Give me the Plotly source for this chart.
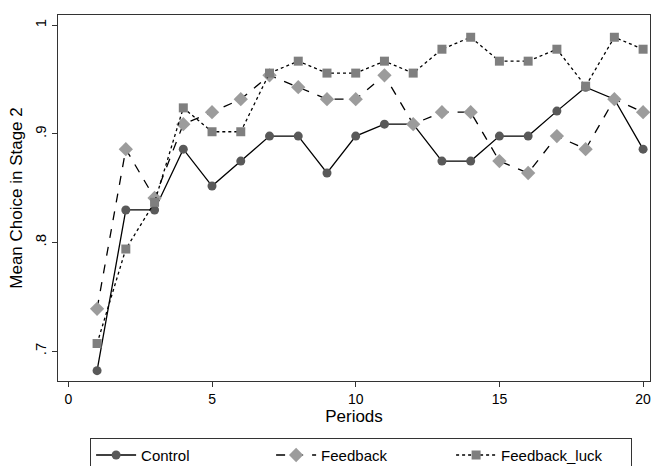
import plotly.graph_objects as go

periods = list(range(1, 21))
control = [0.682, 0.830, 0.830, 0.886, 0.852, 0.875, 0.898, 0.898, 0.864, 0.898,
           0.909, 0.909, 0.875, 0.875, 0.898, 0.898, 0.921, 0.943, 0.932, 0.886]
feedback = [0.739, 0.886, 0.841, 0.909, 0.920, 0.932, 0.954, 0.943, 0.932, 0.932,
            0.954, 0.909, 0.920, 0.920, 0.875, 0.864, 0.898, 0.886, 0.932, 0.920]
feedback_luck = [0.707, 0.794, 0.837, 0.924, 0.902, 0.902, 0.956, 0.967, 0.956, 0.956,
                 0.967, 0.956, 0.978, 0.989, 0.967, 0.967, 0.978, 0.944, 0.989, 0.978]

x_ticks = [0, 5, 10, 15, 20]
y_ticks = [0.7, 0.8, 0.9, 1.0]
y_ticklabels = [".7", ".8", ".9", "1"]

font = "Liberation Sans, Arial, sans-serif"

fig = go.Figure()
fig.add_trace(go.Scatter(x=periods, y=control, name="Control", mode="lines+markers",
                         line=dict(color="black", width=1.3, dash="solid"),
                         marker=dict(symbol="circle", size=9, color="#595959")))
fig.add_trace(go.Scatter(x=periods, y=feedback, name="Feedback", mode="lines+markers",
                         line=dict(color="black", width=1.3, dash="dash"),
                         marker=dict(symbol="diamond", size=11, color="#9c9c9c")))
fig.add_trace(go.Scatter(x=periods, y=feedback_luck, name="Feedback_luck", mode="lines+markers",
                         line=dict(color="black", width=1.3, dash="dot"),
                         marker=dict(symbol="square", size=9, color="#7f7f7f")))

fig.update_layout(
    width=653, height=466,
    margin=dict(l=58, r=3, t=15, b=85, autoexpand=False),
    paper_bgcolor="white", plot_bgcolor="white",
    font=dict(family=font, size=14, color="black"),
    showlegend=True,
    legend=dict(orientation="h", x=0.512, xanchor="center", y=-0.155, yanchor="top",
                bordercolor="#333333", borderwidth=1, entrywidth=125,
                itemwidth=40, font=dict(size=15), traceorder="normal"),
)
fig.update_xaxes(range=[-0.36, 20.24], tickvals=x_ticks, ticks="outside", ticklen=5,
                 tickcolor="#333333", showline=True, linecolor="#333333", linewidth=1.2,
                 mirror=True, showgrid=False, zeroline=False,
                 title=dict(text="Periods", standoff=2), tickfont=dict(size=14))
fig.update_yaxes(range=[0.6725, 1.0095], tickvals=y_ticks, ticktext=y_ticklabels,
                 tickangle=-90, ticks="outside", ticklen=5,
                 tickcolor="#333333", showline=True, linecolor="#333333", linewidth=1.2,
                 mirror=True, showgrid=False, zeroline=False,
                 title=dict(text="Mean Choice in Stage 2", standoff=4), tickfont=dict(size=15))

fig.write_html("out.html")
